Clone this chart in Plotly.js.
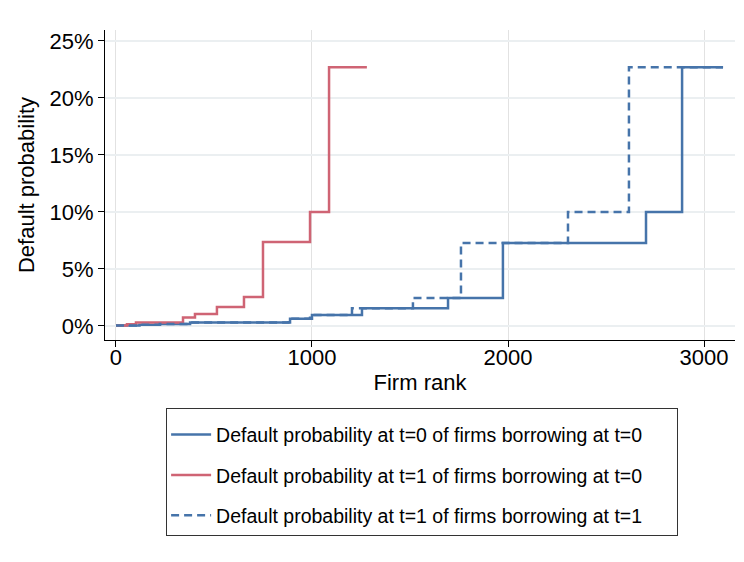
<!DOCTYPE html>
<html>
<head>
<meta charset="utf-8">
<script src="https://cdn.plot.ly/plotly-3.0.1.min.js"></script>
<style>
  html, body { margin: 0; padding: 0; background: #fff; }
  #chart { width: 744px; height: 562px; }
</style>
</head>
<body>
<div id="chart"></div>
<script>
// Step points (firm rank where the level starts) and default probability in %
const rankT0B0 = [0, 120, 224, 378, 888, 1000, 1255, 1694, 1974, 2704, 2888, 3097];
const probT0B0 = [0.05, 0.1, 0.18, 0.3, 0.64, 0.96, 1.55, 2.46, 7.28, 10.0, 22.7, 22.7];

const rankT1B0 = [0, 56, 102, 342, 403, 515, 653, 750, 990, 1087, 1280];
const probT1B0 = [0.05, 0.15, 0.3, 0.75, 1.05, 1.67, 2.54, 7.37, 10.0, 22.7, 22.7];

const rankT1B1 = [0, 120, 224, 370, 880, 990, 1204, 1515, 1760, 2306, 2617, 3097];
const probT1B1 = [0.05, 0.1, 0.18, 0.3, 0.64, 0.96, 1.55, 2.46, 7.28, 10.0, 22.7, 22.7];

const seriesNames = [
  'Default probability at t=0 of firms borrowing at t=0',
  'Default probability at t=1 of firms borrowing at t=0',
  'Default probability at t=1 of firms borrowing at t=1'
];

const yTickVals = [0, 5, 10, 15, 20, 25];
const yTickText = ['0%', '5%', '10%', '15%', '20%', '25%'];
const xTickVals = [0, 1000, 2000, 3000];

const BLUE = '#4674aa';
const RED = '#cf6474';
const FONT = 'Liberation Sans, Arial, Helvetica, sans-serif';

const traces = [
  { x: rankT0B0, y: probT0B0, name: seriesNames[0], legendgroup: 'g1',
    mode: 'lines', line: { shape: 'hv', color: BLUE, width: 2.5 } },
  { x: rankT1B0, y: probT1B0, name: seriesNames[1], legendgroup: 'g2',
    mode: 'lines', line: { shape: 'hv', color: RED, width: 2.5 } },
  { x: rankT1B1, y: probT1B1, name: seriesNames[2], legendgroup: 'g3',
    mode: 'lines', line: { shape: 'hv', color: BLUE, width: 2.5, dash: '8px,5px' } }
];

const layout = {
  width: 744, height: 562,
  margin: { l: 105, r: 9, t: 30, b: 222 },
  paper_bgcolor: '#ffffff',
  plot_bgcolor: '#ffffff',
  font: { family: FONT, size: 22, color: '#000' },
  showlegend: true,
  xaxis: {
    range: [-56, 3158],
    tickvals: xTickVals,
    ticks: 'outside', ticklen: 6, tickwidth: 1, tickcolor: '#000',
    ticklabelstandoff: -8,
    showline: true, linecolor: '#000', linewidth: 1,
    showgrid: true, gridcolor: '#e2e2e2', gridwidth: 1,
    zeroline: false,
    tickfont: { size: 22 },
    title: { text: 'Firm rank', font: { size: 22 }, standoff: 5 }
  },
  yaxis: {
    range: [-1.23, 25.96],
    tickvals: yTickVals, ticktext: yTickText,
    ticks: 'outside', ticklen: 6, tickwidth: 1, tickcolor: '#000',
    showline: true, linecolor: '#000', linewidth: 1,
    showgrid: true, gridcolor: '#ebeff1', gridwidth: 1.5,
    zeroline: false,
    tickfont: { size: 22 },
    title: { text: 'Default probability', font: { size: 22 }, standoff: 8 }
  },
  legend: {
    orientation: 'h',
    x: 0.097, y: -0.219, xanchor: 'left', yanchor: 'top',
    bordercolor: '#333', borderwidth: 1, bgcolor: '#fff',
    font: { size: 19.5, color: '#000' },
    title: { text: '\u00A0', side: 'top', font: { size: 5 } },
    itemwidth: 40,
    tracegroupgap: 12,
    entrywidth: 456, entrywidthmode: 'pixels'
  }
};

Plotly.newPlot('chart', traces, layout, { displayModeBar: false, staticPlot: true });
</script>
</body>
</html>
